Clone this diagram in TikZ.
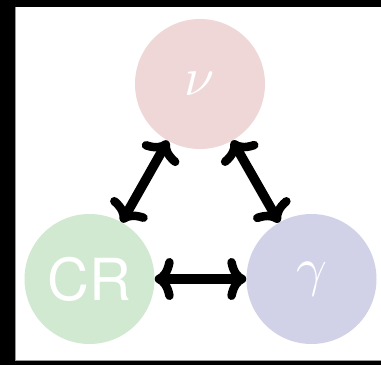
\documentclass[tikz,border=0pt]{standalone}
\usepackage{graphicx}
\usepackage{fontspec}
\setsansfont{TeX Gyre Heros}
\usetikzlibrary{arrows.meta}
\definecolor{nupink}{HTML}{EFD7D7}
\definecolor{crgreen}{HTML}{D1E8D1}
\definecolor{gamlav}{HTML}{D1D1E7}
\tikzset{
  headtip/.tip={Computer Modern Rightarrow[length=19pt,width=42pt,line width=8.5pt,round]}
}
\begin{document}
\begin{tikzpicture}[x=1pt,y=-1pt,
  ball/.style={circle,minimum size=130pt,inner sep=0pt,text=white},
  link/.style={line width=9.5pt,line cap=round,headtip-headtip}]
  % frame
  \fill[black] (0,0) rectangle (381,365);
  \useasboundingbox (0,0) rectangle (381,365);
  \fill[white] (15.5,7) rectangle (381,360);
  \draw[gray!80,line width=1pt] (15.5,7) -- (15.5,360) -- (381,360);
  % nodes
  \node[ball,fill=nupink] (nu) at (200,84) {\scalebox{5.4}{$\nu$}};
  \node[ball,fill=crgreen] (cr) at (89.5,279) {\fontsize{58}{58}\selectfont\sffamily CR};
  \node[ball,fill=gamlav] (ga) at (311.5,279) {\raisebox{3pt}{\scalebox{5.4}{$\gamma$}}};
  % links
  \draw[link] (cr) -- (nu);
  \draw[link] (nu) -- (ga);
  \draw[link] (cr) -- (ga);
\end{tikzpicture}
\end{document}
